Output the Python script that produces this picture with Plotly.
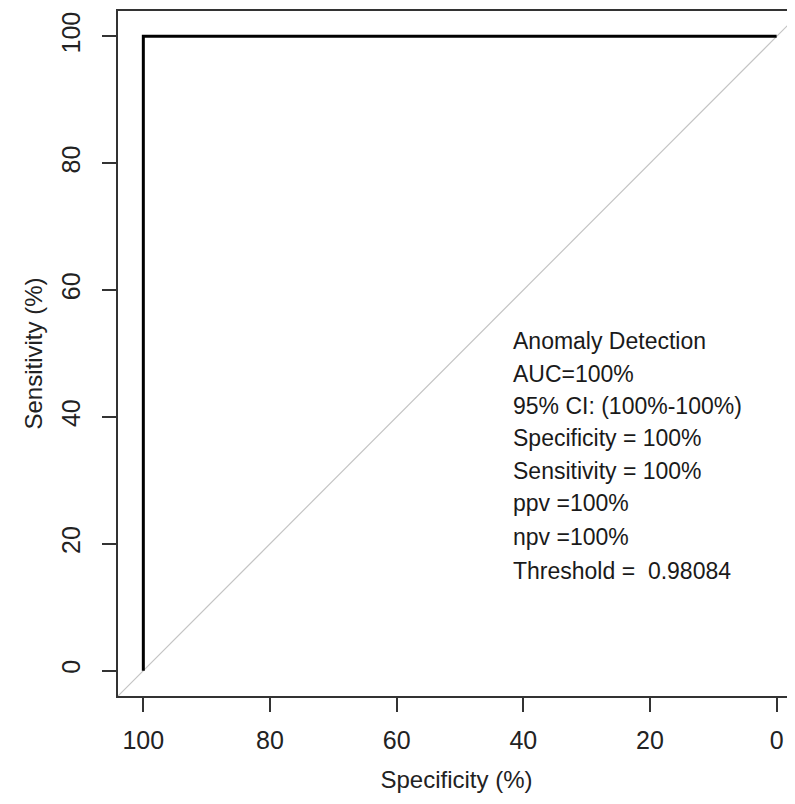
import plotly.graph_objects as go

# ROC curve data (specificity %, sensitivity %)
roc_specificity = [100, 100, 0]
roc_sensitivity = [0, 100, 100]

# reference diagonal
diag_specificity = [104, -4]
diag_sensitivity = [-4, 104]

x_ticks = [100, 80, 60, 40, 20, 0]
y_ticks = [0, 20, 40, 60, 80, 100]

legend_lines = [
    "Anomaly Detection",
    "AUC=100%",
    "95% CI: (100%-100%)",
    "Specificity = 100%",
    "Sensitivity = 100%",
    "ppv =100%",
    "npv =100%",
    "Threshold =  0.98084",
]
legend_x = 42.0
legend_y = [51.9, 46.7, 41.7, 36.6, 31.4, 26.4, 21.0, 15.7]

FONT = "Liberation Sans, Arial, sans-serif"
AXC = "#333333"

fig = go.Figure()
fig.add_trace(go.Scatter(x=diag_specificity, y=diag_sensitivity, mode="lines",
                         line=dict(color="#c4c4c4", width=1.2), hoverinfo="skip",
                         showlegend=False))
fig.add_trace(go.Scatter(x=roc_specificity, y=roc_sensitivity, mode="lines",
                         line=dict(color="black", width=3), showlegend=False))

for txt, yy in zip(legend_lines, legend_y):
    fig.add_annotation(x=legend_x, y=yy, text=txt, showarrow=False,
                       xanchor="left", yanchor="middle",
                       font=dict(family=FONT, size=23, color="#1a1a1a"))

fig.update_layout(
    width=787, height=796,
    margin=dict(l=110, r=0, t=3, b=108),
    paper_bgcolor="white", plot_bgcolor="white",
    font=dict(family=FONT, color="#222222"),
    xaxis=dict(range=[104, -2.9], tickvals=x_ticks, ticks="outside", ticklen=14,
               tickwidth=1.5, tickcolor=AXC, showline=True, linecolor=AXC,
               linewidth=1.5, mirror=True, showgrid=False, zeroline=False,
               tickfont=dict(size=25, color="#222222"), ticklabelstandoff=7,
               title=dict(text="Specificity (%)", font=dict(size=24), standoff=18)),
    yaxis=dict(range=[-4, 104], tickvals=y_ticks, ticks="outside", ticklen=14,
               tickwidth=1.5, tickcolor=AXC, showline=True, linecolor=AXC,
               linewidth=1.5, showgrid=False, zeroline=False, tickangle=-90,
               tickfont=dict(size=25, color="#222222"), ticklabelstandoff=12,
               title=dict(text="Sensitivity (%)", font=dict(size=24), standoff=8)),
)

fig.write_html("out.html")
